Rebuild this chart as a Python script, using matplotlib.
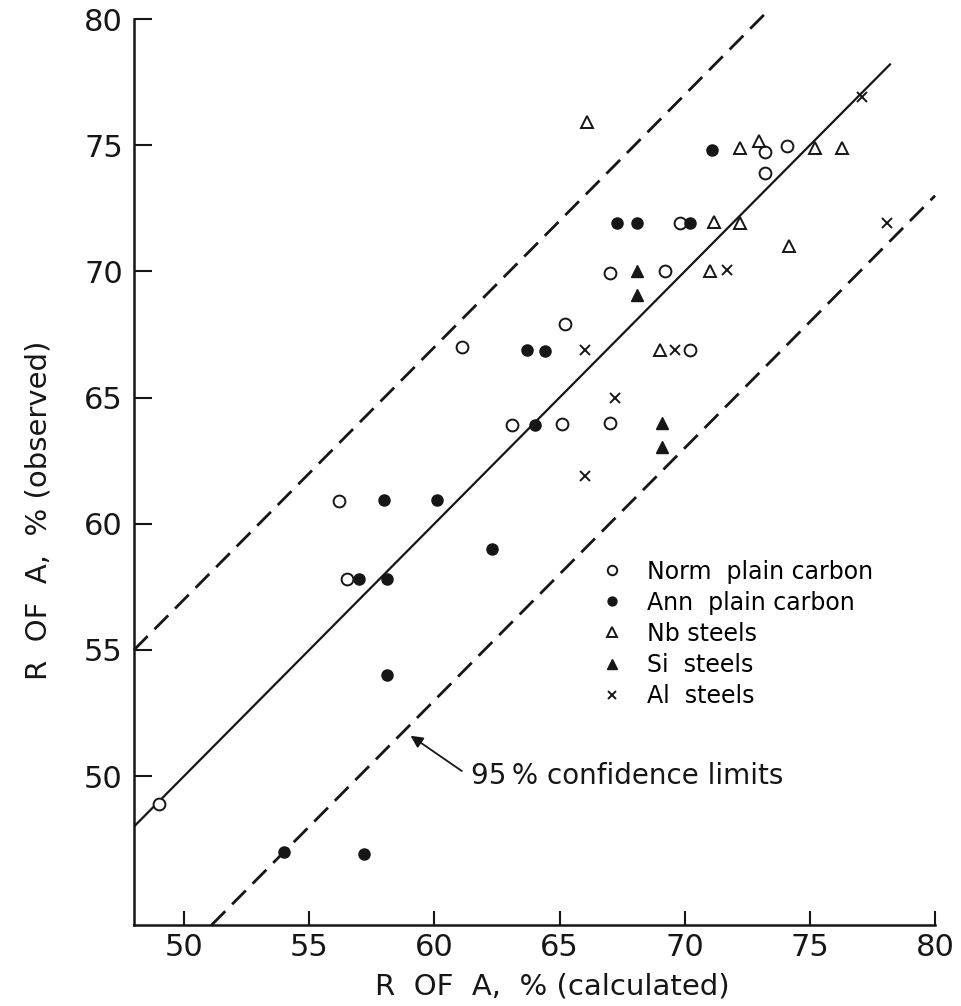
import matplotlib
matplotlib.use("Agg")
import matplotlib.pyplot as plt

plt.rcParams['font.family'] = ['DejaVu Sans']

# calculated, observed reduction of area (%)
norm_x = [49.0, 56.2, 56.5, 61.1, 65.2, 63.1, 65.1, 67.0, 67.0, 69.2, 69.8, 70.2, 73.2, 73.2, 74.1]
norm_y = [48.9, 60.9, 57.8, 67.0, 67.9, 63.9, 63.95, 64.0, 69.95, 70.0, 71.9, 66.9, 73.9, 74.75, 74.95]

ann_x = [54.0, 57.2, 57.0, 58.1, 58.1, 58.0, 60.1, 62.3, 63.7, 64.4, 64.0, 67.3, 68.1, 70.2, 71.1]
ann_y = [47.0, 46.9, 57.8, 57.8, 54.0, 60.95, 60.95, 59.0, 66.9, 66.85, 63.9, 71.9, 71.9, 71.9, 74.8]

nb_x = [66.1, 72.2, 72.95, 75.2, 76.3, 71.15, 72.2, 74.15, 71.0, 69.0]
nb_y = [75.9, 74.9, 75.15, 74.9, 74.9, 71.95, 71.9, 71.0, 70.0, 66.9]

si_x = [68.1, 68.1, 69.1, 69.1]
si_y = [70.0, 69.05, 64.0, 63.05]

al_x = [77.1, 78.1, 71.7, 66.0, 69.6, 67.2, 66.0]
al_y = [76.9, 71.9, 70.05, 66.9, 66.9, 65.0, 61.9]

# regression line and 95 % limits (x ends, y = x + offset)
fit_x = [48.0, 78.2]
upper_x = [48.0, 73.4]
lower_x = [51.1, 80.0]
limit_offset = 7.0

fig = plt.figure(figsize=(9.61, 10.06), dpi=100)
ax = fig.add_axes([0.1394, 0.0805, 0.8336, 0.9006])

ink = '#161616'

ax.plot(fit_x, [v for v in fit_x], color=ink, lw=1.6)
ax.plot(upper_x, [v + limit_offset for v in upper_x], color=ink, lw=2.0,
        dashes=(7, 3.5), clip_on=False)
ax.plot(lower_x, [v - limit_offset for v in lower_x], color=ink, lw=2.0,
        dashes=(7, 3.5), clip_on=False)

ms = 8.5
ax.plot(norm_x, norm_y, 'o', ls='none', ms=ms, mfc='white', mec=ink, mew=1.4, label='Norm  plain carbon')
ax.plot(ann_x, ann_y, 'o', ls='none', ms=ms - 0.5, mfc=ink, mec=ink, mew=1.0, label='Ann  plain carbon')
ax.plot(nb_x, nb_y, '^', ls='none', ms=ms + 0.5, mfc='white', mec=ink, mew=1.4, label='Nb steels')
ax.plot(si_x, si_y, '^', ls='none', ms=ms + 0.5, mfc=ink, mec=ink, mew=1.0, label='Si  steels')
ax.plot(al_x, al_y, 'x', ls='none', ms=6.5, mec=ink, mew=1.4, label='Al  steels')

ax.set_xlim(48, 80)
ax.set_ylim(44.1, 80)
ax.set_xticks([50, 55, 60, 65, 70, 75, 80])
ax.set_yticks([50, 55, 60, 65, 70, 75, 80])

for side in ['top', 'right']:
    ax.spines[side].set_visible(False)
for side in ['left', 'bottom']:
    ax.spines[side].set_linewidth(1.8)
    ax.spines[side].set_color(ink)

ax.tick_params(axis='y', direction='in', length=13, width=1.5, labelsize=22, pad=8, colors=ink)
ax.tick_params(axis='x', direction='in', length=10, width=1.5, labelsize=22, pad=6, colors=ink)

ax.set_xlabel('R  OF  A,  % (calculated)', fontsize=21, color=ink)
ax.set_ylabel('R  OF  A,  % (observed)', fontsize=21, color=ink)
ax.xaxis.set_label_coords(0.5225, -0.052)
ax.yaxis.set_label_coords(-0.102, 0.458)

ax.annotate('', xy=(59.05, 51.6), xytext=(61.1, 50.2),
            arrowprops=dict(arrowstyle='-|>', color=ink, lw=1.3, mutation_scale=18,
                            shrinkA=0, shrinkB=0))
ax.text(61.45, 50.0, '95\u2009% confidence limits', fontsize=20, color=ink,
        ha='left', va='center')

ax.legend(loc='upper left', bbox_to_anchor=(0.5824, 0.4034), frameon=False,
          fontsize=17, borderpad=0, borderaxespad=0, handlelength=1.0,
          handletextpad=0.95, labelspacing=0.30, markerscale=0.8)

fig.savefig('out.png', dpi=100, facecolor='white')
